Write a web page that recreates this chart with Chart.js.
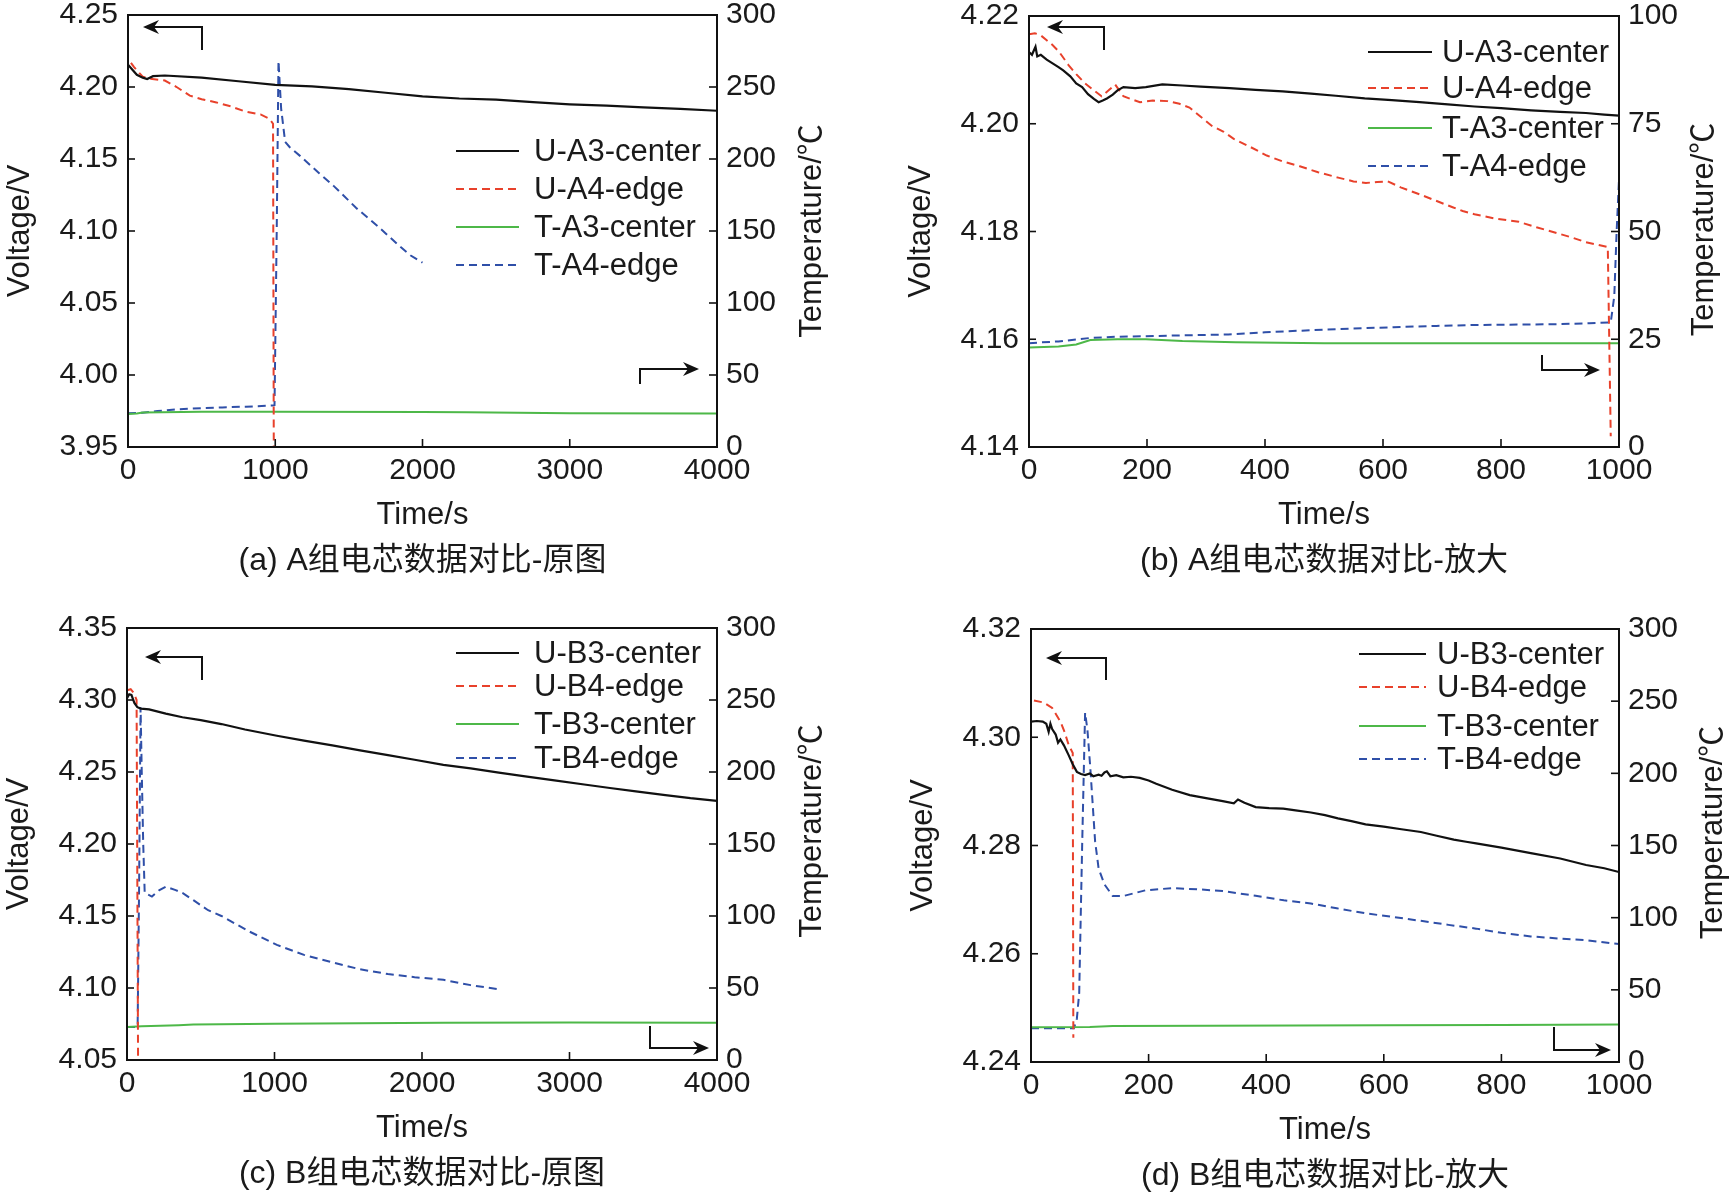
<!DOCTYPE html>
<html><head><meta charset="utf-8">
<script src="https://cdn.jsdelivr.net/npm/chart.js@4.4.1/dist/chart.umd.min.js"></script>
<style>
html,body{margin:0;padding:0;background:#fff;width:1733px;height:1198px;overflow:hidden;}
canvas{position:absolute;}
</style></head><body>
<canvas id="ca" width="866" height="599" style="left:0;top:0"></canvas>
<canvas id="cb" width="867" height="599" style="left:866px;top:0"></canvas>
<canvas id="cc" width="866" height="599" style="left:0;top:599px"></canvas>
<canvas id="cd" width="867" height="599" style="left:866px;top:599px"></canvas>
<script>
// ---------- tick labels ----------
const timeTicksLong = [0,1000,2000,3000,4000];
const timeTicksShort = [0,200,400,600,800,1000];
const voltTicksA = [3.95,4.00,4.05,4.10,4.15,4.20,4.25];
const voltTicksB = [4.14,4.16,4.18,4.20,4.22];
const voltTicksC = [4.05,4.10,4.15,4.20,4.25,4.30,4.35];
const voltTicksD = [4.24,4.26,4.28,4.30,4.32];
const tempTicks300 = [0,50,100,150,200,250,300];
const tempTicks100 = [0,25,50,75,100];

// ---------- series names & captions ----------
const namesA = ['U-A3-center','U-A4-edge','T-A3-center','T-A4-edge'];
const namesB = ['U-B3-center','U-B4-edge','T-B3-center','T-B4-edge'];
const captions = ['(a) A组电芯数据对比-原图','(b) A组电芯数据对比-放大','(c) B组电芯数据对比-原图','(d) B组电芯数据对比-放大'];

// ---------- panel (a) ----------
const aT_UA3 = [0,30,60,100,130,170,250,500,750,1000,1250,1500,1750,2000,2250,2500,2750,3000,3250,3500,3750,4000];
const aV_UA3 = [4.2155,4.2120,4.2085,4.2065,4.2055,4.2075,4.2080,4.2065,4.2040,4.2015,4.2005,4.1985,4.1960,4.1935,4.1920,4.1912,4.1895,4.1880,4.1870,4.1858,4.1848,4.1835];
const aT_UA4 = [20,40,70,100,150,250,330,420,500,600,700,800,900,960,985,990];
const aV_UA4 = [4.2168,4.2140,4.2105,4.2072,4.2058,4.2045,4.2000,4.1940,4.1915,4.1893,4.1865,4.1828,4.1810,4.1780,4.1745,3.9500];
const aT_TA3 = [0,60,100,500,1000,2000,2300,3000,4000];
const aC_TA3 = [23.0,23.2,24.0,24.5,24.5,24.3,24.2,23.5,23.2];
const aT_TA4 = [0,100,200,340,500,640,800,980,995,1010,1022,1040,1067,1100,1170,1300,1400,1550,1700,1850,1920,2000];
const aC_TA4 = [23.5,23.8,25.0,26.2,27.0,27.5,28.0,28.8,29.0,150,268,235,212,208,202,190,181,166,153,139,133,128];

// ---------- panel (b) ----------
const bT_UA3 = [0,5,11,14,20,30,40,50,58,70,80,90,100,110,118,125,132,142,150,160,180,198,226,260,291,340,384,430,478,520,569,615,662,710,755,800,851,900,944,975,1000];
const bV_UA3 = [4.2133,4.2128,4.2143,4.2125,4.2128,4.2119,4.2112,4.2105,4.2099,4.2088,4.2075,4.2068,4.2055,4.2046,4.2040,4.2043,4.2047,4.2054,4.2062,4.2068,4.2066,4.2068,4.2073,4.2071,4.2069,4.2066,4.2063,4.2060,4.2056,4.2052,4.2047,4.2044,4.2040,4.2036,4.2032,4.2029,4.2025,4.2022,4.2020,4.2017,4.2015];
const bT_UA4 = [0,10,20,30,39,50,67,80,95,110,123,135,146,153,160,175,188,210,235,255,272,290,310,330,347,375,403,430,459,490,524,550,571,590,608,630,662,690,718,735,755,790,830,860,895,920,944,965,981,986];
const bV_UA4 = [4.2166,4.2168,4.2164,4.2155,4.2147,4.2135,4.2109,4.2092,4.2075,4.2062,4.2051,4.2062,4.2073,4.2062,4.2051,4.2045,4.2040,4.2043,4.2042,4.2037,4.2030,4.2014,4.1996,4.1985,4.1972,4.1957,4.1941,4.1930,4.1921,4.1910,4.1900,4.1893,4.1890,4.1892,4.1893,4.1882,4.1869,4.1857,4.1845,4.1838,4.1832,4.1824,4.1818,4.1808,4.1797,4.1789,4.1780,4.1775,4.1771,4.1420];
const bT_TA3 = [0,50,80,104,150,198,260,350,500,1000];
const bC_TA3 = [23.1,23.3,23.8,24.8,25.0,25.0,24.6,24.3,24.1,24.1];
const bT_TA4 = [0,50,104,150,198,260,338,400,478,550,618,690,755,830,895,950,986,992,996,1000];
const bC_TA4 = [24.1,24.5,25.3,25.6,25.7,25.9,26.1,26.6,27.1,27.5,27.8,28.1,28.3,28.4,28.5,28.7,28.9,35,50,62];

// ---------- panel (c) ----------
const cT_UB3 = [0,15,30,50,70,94,150,263,376,500,640,800,1016,1200,1392,1580,1769,1950,2145,2330,2521,2700,2898,3100,3274,3450,3650,3820,4000];
const cV_UB3 = [4.3013,4.3040,4.3035,4.2980,4.2950,4.2940,4.2935,4.2905,4.2880,4.2860,4.2833,4.2795,4.2752,4.2718,4.2685,4.2650,4.2617,4.2585,4.2550,4.2525,4.2496,4.2470,4.2442,4.2413,4.2389,4.2365,4.2340,4.2318,4.2300];
const cT_UB4 = [0,25,45,65,75];
const cV_UB4 = [4.3067,4.3075,4.3050,4.3000,4.0500];
const cT_TB3 = [0,100,350,450,1000,2145,3000,4000];
const cC_TB3 = [22.9,23.5,24.2,24.7,25.2,25.8,26.0,25.8];
const cT_TB4 = [0,56,72,82,92,100,110,120,169,220,263,330,376,450,550,640,828,1016,1200,1392,1580,1769,1950,2145,2330,2530];
const cC_TB4 = [22.9,22.9,23,120,245,200,150,116,113.5,118,120.3,118,116,111,104,100,89.3,79.9,73,67.8,63,59.7,57.5,55.7,52,49];

// ---------- panel (d) ----------
const dT_UB3 = [0,10,20,26,30,33,36,42,46,50,56,64,71,78,85,92,100,106,115,120,125,129,135,145,157,170,185,200,213,240,270,300,326,345,352,363,382,405,429,450,476,500,522,545,569,600,630,663,690,719,740,757,800,850,900,944,975,1000];
const dV_UB3 = [4.3029,4.3030,4.3029,4.3025,4.3010,4.3025,4.3015,4.3005,4.2990,4.2996,4.2985,4.2967,4.2950,4.2936,4.2932,4.2930,4.2933,4.2928,4.2931,4.2929,4.2935,4.2937,4.2928,4.2930,4.2926,4.2927,4.2925,4.2920,4.2914,4.2903,4.2893,4.2887,4.2882,4.2878,4.2885,4.2879,4.2871,4.2869,4.2868,4.2865,4.2861,4.2856,4.2850,4.2845,4.2839,4.2835,4.2830,4.2825,4.2818,4.2811,4.2807,4.2804,4.2796,4.2786,4.2776,4.2764,4.2758,4.2751];
const dT_UB4 = [5,22,36,50,57,64,71,72];
const dV_UB4 = [4.3068,4.3064,4.3054,4.3029,4.3010,4.2986,4.2971,4.2445];
const dT_TB3 = [0,100,139,300,600,800,1000];
const dC_TB3 = [24.1,24.3,24.9,25.2,25.5,25.7,26.0];
const dT_TB4 = [0,73,78,82,87,92,96,101,109,115,125,139,157,195,242,290,326,382,430,476,520,569,615,663,710,757,800,850,900,944,1000];
const dC_TB4 = [23.3,23.3,30,48,150,242,230,203,153,134,123,115,115,119,120.5,119.5,118.4,115.2,112,109.8,106.5,103,100.5,97.8,95,92.4,89.5,87,85.5,84.4,81.7];

// ---------- styles ----------
const FONT = "'Liberation Sans', Arial, 'Noto Sans CJK SC', sans-serif";
const TXT = '#1a1a1a';
const C_BLACK = '#111111', C_RED = '#e8412b', C_GREEN = '#4db848', C_BLUE = '#2f4fa8';

const pts = (ts, vs) => ts.map((t, i) => ({x: t, y: vs[i]}));

function series(names, uc, ue, tc, te) {
  return [
    {label: names[0], data: pts(uc[0], uc[1]), yAxisID: 'y', borderColor: C_BLACK, borderWidth: 2.2, borderDash: []},
    {label: names[1], data: pts(ue[0], ue[1]), yAxisID: 'y', borderColor: C_RED, borderWidth: 2, borderDash: [8, 5]},
    {label: names[2], data: pts(tc[0], tc[1]), yAxisID: 'y1', borderColor: C_GREEN, borderWidth: 2, borderDash: []},
    {label: names[3], data: pts(te[0], te[1]), yAxisID: 'y1', borderColor: C_BLUE, borderWidth: 2, borderDash: [8, 5]}
  ].map(d => Object.assign(d, {pointRadius: 0, tension: 0, fill: false}));
}

function drawArrow(ctx, a, ar) {
  const cx = a.left + ar.corner[0], cy = a.top + ar.corner[1];
  const vx = a.left + ar.vend[0], vy = a.top + ar.vend[1];
  const tx = a.left + ar.tip[0], ty = a.top + ar.tip[1];
  const dir = Math.sign(tx - cx);
  ctx.beginPath();
  ctx.moveTo(vx, vy); ctx.lineTo(cx, cy); ctx.lineTo(tx - dir * 8, ty);
  ctx.stroke();
  ctx.beginPath();
  ctx.moveTo(tx, ty);
  ctx.lineTo(tx - dir * 16, ty - 7);
  ctx.lineTo(tx - dir * 11, ty);
  ctx.lineTo(tx - dir * 16, ty + 7);
  ctx.closePath();
  ctx.fill();
}

const decor = {
  id: 'decor',
  afterDatasetsDraw(chart) {
    const o = chart.options.plugins.decor;
    const ctx = chart.ctx, a = chart.chartArea;
    const sx = chart.scales.x, sy = chart.scales.y, sy1 = chart.scales.y1;
    ctx.save();
    ctx.strokeStyle = '#111'; ctx.fillStyle = '#111'; ctx.setLineDash([]);
    ctx.lineWidth = 1.6;
    sx.ticks.forEach(t => { const p = sx.getPixelForValue(t.value);
      if (p > a.left + 2 && p < a.right - 2) { ctx.beginPath(); ctx.moveTo(p, a.bottom); ctx.lineTo(p, a.bottom - 8); ctx.stroke(); } });
    sy.ticks.forEach(t => { const p = sy.getPixelForValue(t.value);
      if (p > a.top + 2 && p < a.bottom - 2) { ctx.beginPath(); ctx.moveTo(a.left, p); ctx.lineTo(a.left + 7, p); ctx.stroke(); } });
    sy1.ticks.forEach(t => { const p = sy1.getPixelForValue(t.value);
      if (p > a.top + 2 && p < a.bottom - 2) { ctx.beginPath(); ctx.moveTo(a.right, p); ctx.lineTo(a.right - 8, p); ctx.stroke(); } });
    ctx.lineWidth = 2;
    ctx.strokeRect(a.left, a.top, a.right - a.left, a.bottom - a.top);
    o.arrows.forEach(ar => drawArrow(ctx, a, ar));
    // legend
    ctx.font = '31px ' + FONT; ctx.textAlign = 'left'; ctx.textBaseline = 'middle';
    chart.data.datasets.forEach((d, i) => {
      const y = a.top + o.legendRows[i];
      ctx.strokeStyle = d.borderColor; ctx.lineWidth = d.borderWidth; ctx.setLineDash(d.borderDash || []);
      ctx.beginPath(); ctx.moveTo(a.right - o.legendLine[0], y); ctx.lineTo(a.right - o.legendLine[1], y); ctx.stroke();
      ctx.setLineDash([]);
      ctx.fillStyle = TXT;
      ctx.fillText(d.label, a.right - o.legendText, y + 1);
    });
    ctx.restore();
  },
  afterDraw(chart) {
    const o = chart.options.plugins.decor;
    const ctx = chart.ctx, a = chart.chartArea;
    const midY = (a.top + a.bottom) / 2, midX = (a.left + a.right) / 2;
    ctx.save();
    ctx.fillStyle = TXT; ctx.textAlign = 'center'; ctx.textBaseline = 'middle';
    ctx.font = '31px ' + FONT;
    ctx.fillText('Time/s', midX, a.bottom + 68);
    ctx.save(); ctx.translate(a.left - 108, midY); ctx.rotate(-Math.PI / 2);
    ctx.fillText('Voltage/V', 0, 0); ctx.restore();
    ctx.save(); ctx.translate(a.right + o.rightTitleOff, midY + o.rightTitleDy); ctx.rotate(-Math.PI / 2);
    ctx.fillText('Temperature/\u2103', 0, 0); ctx.restore();
    ctx.font = '32px ' + FONT;
    ctx.fillText(o.caption, midX, a.bottom + 114);
    ctx.restore();
  }
};

function makeChart(id, p) {
  const fixTicks = arr => s => { s.ticks = arr.map(v => ({value: v})); };
  const tickFont = {family: FONT, size: 30};
  new Chart(document.getElementById(id), {
    type: 'line',
    data: {datasets: p.datasets},
    plugins: [decor],
    options: {
      responsive: false, devicePixelRatio: 1, animation: false,
      layout: {padding: p.pad},
      plugins: {legend: {display: false}, tooltip: {enabled: false},
        decor: {arrows: p.arrows, legendRows: p.legendRows, legendLine: p.legendLine, legendText: p.legendText,
                rightTitleOff: p.rightTitleOff, rightTitleDy: p.rightTitleDy, caption: p.caption}},
      scales: {
        x: {type: 'linear', position: 'bottom', min: p.xTicks[0], max: p.xTicks[p.xTicks.length - 1],
            afterBuildTicks: fixTicks(p.xTicks),
            ticks: {font: tickFont, color: TXT, padding: 6, maxRotation: 0, autoSkip: false, callback: v => String(v)},
            grid: {display: false, drawTicks: false}, border: {display: false},
            afterFit: s => { s.height = 100; s.paddingLeft = 0; s.paddingRight = 0; }},
        y: {type: 'linear', position: 'left', min: p.yTicks[0], max: p.yTicks[p.yTicks.length - 1],
            afterBuildTicks: fixTicks(p.yTicks),
            ticks: {font: tickFont, color: TXT, padding: 10, callback: v => Number(v).toFixed(2)},
            grid: {display: false, drawTicks: false}, border: {display: false},
            afterFit: s => { s.width = 110; s.paddingTop = 0; s.paddingBottom = 0; }},
        y1: {type: 'linear', position: 'right', min: p.y1Ticks[0], max: p.y1Ticks[p.y1Ticks.length - 1],
            afterBuildTicks: fixTicks(p.y1Ticks),
            ticks: {font: tickFont, color: TXT, padding: 9, callback: v => String(v)},
            grid: {display: false, drawTicks: false}, border: {display: false},
            afterFit: s => { s.width = 110; s.paddingTop = 0; s.paddingBottom = 0; }}
      }
    }
  });
}

makeChart('ca', {
  pad: {left: 18, right: 39, top: 15, bottom: 52},
  xTicks: timeTicksLong, yTicks: voltTicksA, y1Ticks: tempTicks300,
  datasets: series(namesA, [aT_UA3, aV_UA3], [aT_UA4, aV_UA4], [aT_TA3, aC_TA3], [aT_TA4, aC_TA4]),
  legendRows: [136, 174, 212, 250], legendLine: [261, 198], legendText: 183,
  arrows: [{corner: [74, 12], vend: [74, 35], tip: [15, 12]}, {corner: [512, 354], vend: [512, 369], tip: [571, 354]}],
  rightTitleOff: 95, rightTitleDy: 0, caption: captions[0]
});
makeChart('cb', {
  pad: {left: 53, right: 4, top: 16, bottom: 52},
  xTicks: timeTicksShort, yTicks: voltTicksB, y1Ticks: tempTicks100,
  datasets: series(namesA, [bT_UA3, bV_UA3], [bT_UA4, bV_UA4], [bT_TA3, bC_TA3], [bT_TA4, bC_TA4]),
  legendRows: [36, 72, 112, 150], legendLine: [251, 187], legendText: 177,
  arrows: [{corner: [75, 11], vend: [75, 34], tip: [18, 11]}, {corner: [513, 354], vend: [513, 339], tip: [571, 354]}],
  rightTitleOff: 85, rightTitleDy: -2, caption: captions[1]
});
makeChart('cc', {
  pad: {left: 17, right: 39, top: 29, bottom: 38},
  xTicks: timeTicksLong, yTicks: voltTicksC, y1Ticks: tempTicks300,
  datasets: series(namesB, [cT_UB3, cV_UB3], [cT_UB4, cV_UB4], [cT_TB3, cC_TB3], [cT_TB4, cC_TB4]),
  legendRows: [25, 58, 96, 130], legendLine: [261, 198], legendText: 183,
  arrows: [{corner: [75, 29], vend: [75, 52], tip: [18, 29]}, {corner: [523, 420], vend: [523, 398], tip: [582, 420]}],
  rightTitleOff: 95, rightTitleDy: -13, caption: captions[2]
});
makeChart('cd', {
  pad: {left: 55, right: 4, top: 30, bottom: 36},
  xTicks: timeTicksShort, yTicks: voltTicksD, y1Ticks: tempTicks300,
  datasets: series(namesB, [dT_UB3, dV_UB3], [dT_UB4, dV_UB4], [dT_TB3, dC_TB3], [dT_TB4, dC_TB4]),
  legendRows: [25, 58, 97, 130], legendLine: [260, 193], legendText: 182,
  arrows: [{corner: [75, 29], vend: [75, 51], tip: [15, 29]}, {corner: [523, 421], vend: [523, 398], tip: [580, 421]}],
  rightTitleOff: 94, rightTitleDy: -13, caption: captions[3]
});
</script>
</body></html>
